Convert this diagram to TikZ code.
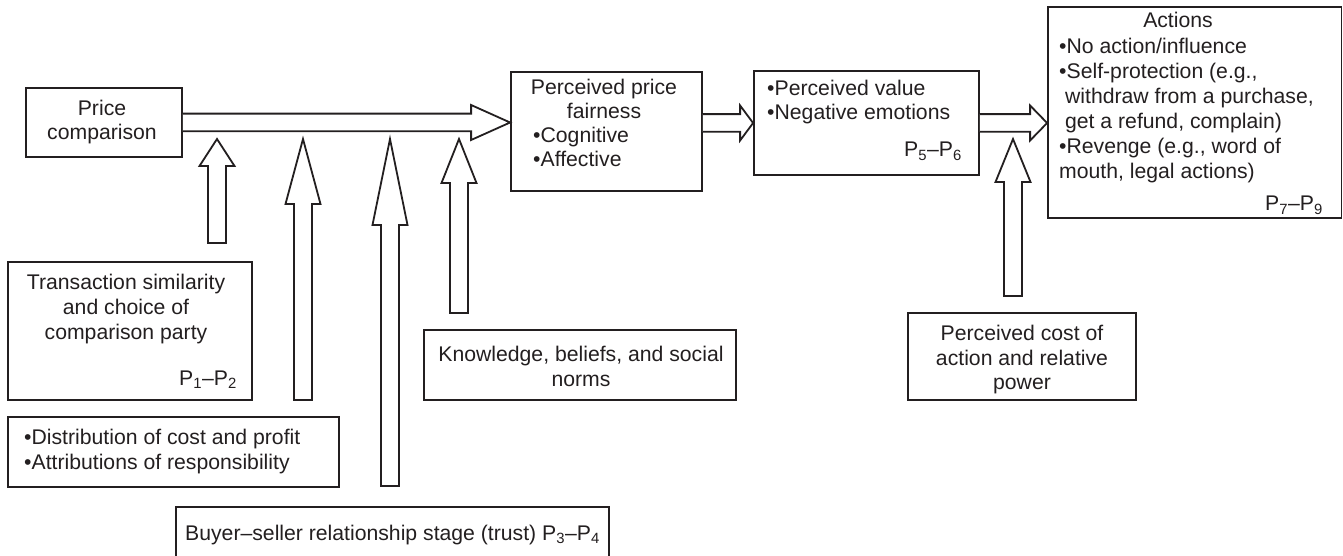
\documentclass[tikz,border=0pt]{standalone}
\usepackage{fontspec}
\setmainfont{Liberation Sans}
\usetikzlibrary{calc,fit}
\definecolor{ink}{RGB}{35,31,32}
\newcommand{\hblock}[5]{\draw[blockarrow] let \p1=(#1), \p2=(#2) in (\x1,\y1+#3) -- (\x2-#5,\y1+#3) -- (\x2-#5,\y1+#4) -- (\x2,\y1) -- (\x2-#5,\y1-#4) -- (\x2-#5,\y1-#3) -- (\x1,\y1-#3);}
\newcommand{\vblock}[5]{\draw[blockarrow] let \p1=(#1), \p2=(#2) in (\x1-#3,\y1) -- (\x1-#3,\y2-#5) -- (\x1-#4,\y2-#5) -- (\x1,\y2) -- (\x1+#4,\y2-#5) -- (\x1+#3,\y2-#5) -- (\x1+#3,\y1) -- cycle;}
\begin{document}
\begin{tikzpicture}[x=1pt,y=-1pt,
  box/.style={draw=ink, line width=1.8pt, inner sep=0pt, fill=white},
  blockarrow/.style={draw=ink, line width=1.8pt, line join=miter, fill=white},
  txt/.style={inner sep=0pt, text=ink, font=\fontsize{21.2}{24.5}\selectfont},
  txtw/.style={inner sep=0pt, text=ink, font=\fontsize{21.2}{25}\selectfont}]
\useasboundingbox[fill=white] (0,0) rectangle (1343,556);

% boxes
\node[box, fit={(26,88) (182,157)}] (pc) {};
\node[box, fit={(511,72) (702,191)}] (ppf) {};
\node[box, fit={(754,71) (979,175)}] (pv) {};
\node[box, fit={(1048,7) (1341.5,218)}] (act) {};
\node[box, fit={(8,262) (252,400)}] (trans) {};
\node[box, fit={(8,417) (339,487)}] (dist) {};
\node[box, fit={(424,330) (736,400)}] (know) {};
\node[box, fit={(908,313) (1136,400)}] (cost) {};
\node[box, fit={(176,507) (609,575)}] (buyer) {};

% texts
\node[txt, anchor=north, align=center] (pcT) at (102,99.5) {Price\\comparison};
\node[txt, anchor=north, align=center] (ppfT) at (604,78.5) {Perceived price\\fairness};
\node[txt, anchor=north west, align=left] (ppfB) at (533,126.5) {•Cognitive\\•Affective};
\node[txt, anchor=north west, align=left] (pvB) at (767,79.5) {•Perceived value\\•Negative emotions};
\node[txt, anchor=base east] (pvP) at (962,157) {P\textsubscript{5}–P\textsubscript{6}};
\node[txt, anchor=base] (actT) at (1178,28) {Actions};
\node[txtw, anchor=north west, align=left] (actB) at (1059,37.5) {•No action/influence\\•Self-protection (e.g.,\\\hspace*{0.28em}withdraw from a purchase,\\\hspace*{0.28em}get a refund, complain)\\•Revenge (e.g., word of\\mouth, legal actions)};
\node[txt, anchor=base east] (actP) at (1323,211) {P\textsubscript{7}–P\textsubscript{9}};
\node[txtw, anchor=north, align=center] (transT) at (126,273.5) {Transaction similarity\\and choice of\\comparison party};
\node[txt, anchor=base east] (transP) at (237,385) {P\textsubscript{1}–P\textsubscript{2}};
\node[txtw, anchor=north west, align=left] (distT) at (24,428.5) {•Distribution of cost and profit\\•Attributions of responsibility};
\node[txt, anchor=north, align=center] (knowT) at (581,346) {Knowledge, beliefs, and social\\norms};
\node[txt, anchor=north, align=center] (costT) at (1022,325) {Perceived cost of\\action and relative\\power};
\node[txt, anchor=base west] (buyerT) at (185,540) {Buyer–seller relationship stage (trust) P\textsubscript{3}–P\textsubscript{4}};

% horizontal block arrows
\hblock{pc.east}{ppf.west}{8.85pt}{17.5pt}{39pt}
\hblock{ppf.east |- pv.west}{pv.west}{8.85pt}{17.5pt}{13pt}
\hblock{pv.east}{act.west |- pv.east}{8.85pt}{17.5pt}{17pt}

% upward block arrows
\coordinate (u1f) at (217,243); \coordinate (u1t) at (217,139);
\coordinate (u2f) at (303,400); \coordinate (u2t) at (303,139);
\coordinate (u3f) at (390,486); \coordinate (u3t) at (390,139);
\coordinate (u4f) at (459,313); \coordinate (u4t) at (459,139);
\coordinate (u5f) at (1013,296); \coordinate (u5t) at (1013,139);
\vblock{u1f}{u1t}{9pt}{17.5pt}{27pt}
\vblock{u2f}{u2t}{9pt}{17.5pt}{65pt}
\vblock{u3f}{u3t}{9pt}{17.5pt}{86pt}
\vblock{u4f}{u4t}{9pt}{17.5pt}{44pt}
\vblock{u5f}{u5t}{9pt}{17.5pt}{43pt}
\end{tikzpicture}
\end{document}
